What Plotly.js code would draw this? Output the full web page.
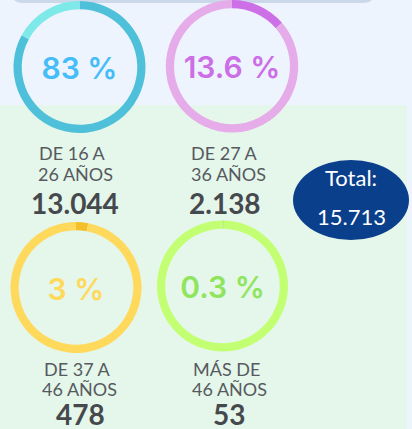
<!DOCTYPE html>
<html>
<head>
<meta charset="utf-8">
<script src="https://cdn.plot.ly/plotly-3.0.1.min.js"></script>
<style>html,body{margin:0;padding:0;background:#eef4fe;}#chart{width:412px;height:429px;}</style>
</head>
<body>
<div id="chart"></div>
<script>
// ---- data ----
const percents = [83, 13.6, 3, 0.3];
const percentLabels = ['83 %', '13.6 %', '3 %', '0.3 %'];
const labelTop = ['DE 16 A', 'DE 27 A', 'DE 37 A', 'MÁS DE'];
const labelBottom = ['26 AÑOS', '36 AÑOS', '46 AÑOS', '46 AÑOS'];
const counts = [13044, 2138, 478, 53];
const total = 15713;
const totalLabel = 'Total:';

// ---- styles ----
const W = 412, H = 429;
const darkColors = ['#4fc0d9', '#cd6fe6', '#f5bf2c', '#9fe552'];
const lightColors = ['#7de9e9', '#e6abe9', '#ffd95c', '#c3ff72'];
const pctColors = ['#45bdf8', '#cc6ee6', '#ffd95a', '#8fe65e'];
// ring geometry in pixels (cx, cy, r)
const rings = [[79.5, 67, 66], [232, 66, 66.5], [76, 287.5, 65.5], [222.5, 286, 65.5]];
const lblPos = [
  [[72,153],[75,174],[75,203]],
  [[224,153],[228,174],[225,203]],
  [[77,369],[79,389],[80,414]],
  [[226,369],[229,389],[229,414]]
];
const px = x => x / W, py = y => 1 - y / H;
const fmt = n => String(n).replace(/\B(?=(\d{3})+(?!\d))/g, '.');

const traces = percents.map((p, i) => {
  const [cx, cy, r] = rings[i];
  return {
    type: 'pie',
    values: [p, 100 - p],
    labels: ['a', 'b'],
    sort: false,
    direction: 'clockwise',
    rotation: 0,
    hole: 0.875,
    textinfo: 'none',
    hoverinfo: 'skip',
    showlegend: false,
    marker: {colors: [darkColors[i], lightColors[i]], line: {width: 0}},
    domain: {x: [px(cx - r), px(cx + r)], y: [py(cy + r), py(cy - r)]},
    title: {text: percentLabels[i], position: 'middle center',
            font: {family: 'Inter, sans-serif', size: 30, weight: 600, color: pctColors[i]}}
  };
});

const annotations = [];
percents.forEach((p, i) => {
  const pos = lblPos[i];
  annotations.push({text: labelTop[i], x: px(pos[0][0]), y: py(pos[0][1]), xref: 'paper', yref: 'paper',
    xanchor: 'center', yanchor: 'middle', showarrow: false,
    font: {family: 'Lato, sans-serif', size: 18, color: '#555a5f'}});
  annotations.push({text: labelBottom[i], x: px(pos[1][0]), y: py(pos[1][1]), xref: 'paper', yref: 'paper',
    xanchor: 'center', yanchor: 'middle', showarrow: false,
    font: {family: 'Lato, sans-serif', size: 18, color: '#555a5f'}});
  annotations.push({text: fmt(counts[i]), x: px(pos[2][0]), y: py(pos[2][1]), xref: 'paper', yref: 'paper',
    xanchor: 'center', yanchor: 'middle', showarrow: false,
    font: {family: 'Lato, sans-serif', size: 28, weight: 700, color: '#45494e'}});
});
annotations.push({text: totalLabel, x: px(351), y: py(178), xref: 'paper', yref: 'paper',
  xanchor: 'center', yanchor: 'middle', showarrow: false,
  font: {family: 'Lato, sans-serif', size: 22, color: '#ffffff'}});
annotations.push({text: fmt(total), x: px(351), y: py(216), xref: 'paper', yref: 'paper',
  xanchor: 'center', yanchor: 'middle', showarrow: false,
  font: {family: 'Lato, sans-serif', size: 22, color: '#ffffff'}});

const shapes = [
  {type: 'rect', xref: 'paper', yref: 'paper', x0: 0, x1: px(407), y0: 0, y1: py(105),
   fillcolor: '#e5f6ea', line: {width: 0}, layer: 'below'},
  {type: 'path', xref: 'paper', yref: 'paper',
   path: `M ${px(13)} ${py(-10)} L ${px(373)} ${py(-10)} L ${px(373)} ${py(-4)} Q ${px(373)} ${py(3)} ${px(363)} ${py(3)} L ${px(23)} ${py(3)} Q ${px(13)} ${py(3)} ${px(13)} ${py(-4)} Z`,
   fillcolor: '#cbd8ea', line: {width: 0}, layer: 'below'},
  {type: 'circle', xref: 'paper', yref: 'paper', x0: px(293), x1: px(409), y0: py(240), y1: py(160),
   fillcolor: '#0a3f8c', line: {width: 0}}
];

Plotly.newPlot('chart', traces, {
  width: W, height: H,
  margin: {l: 0, r: 0, t: 0, b: 0, pad: 0},
  paper_bgcolor: '#eef4fe',
  plot_bgcolor: 'rgba(0,0,0,0)',
  annotations: annotations,
  shapes: shapes,
  showlegend: false
}, {displayModeBar: false, staticPlot: true});
</script>
</body>
</html>
